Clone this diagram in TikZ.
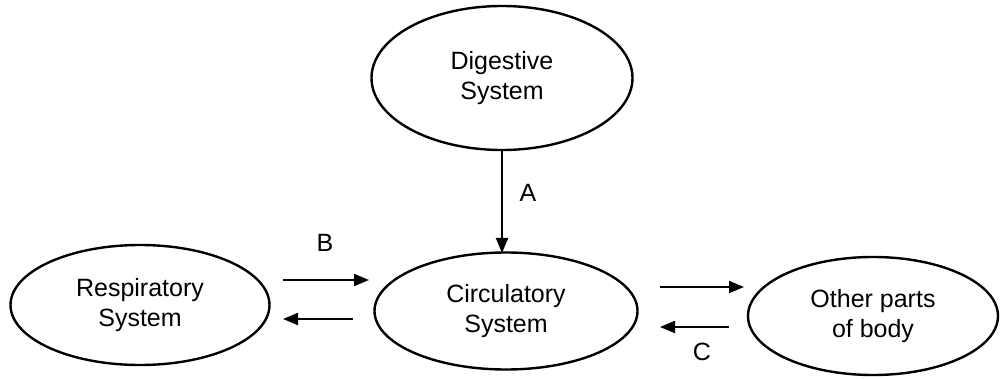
\documentclass[tikz,border=0pt]{standalone}
\usepackage{fontspec}
\setmainfont{Liberation Sans}
\usetikzlibrary{shapes.geometric,arrows.meta}
\begin{document}
\begin{tikzpicture}[x=1pt,y=-1pt,
  sys/.style={ellipse,draw,line width=2.4pt,inner sep=0pt,align=center,
    font=\fontsize{25}{30}\selectfont},
  flow/.style={line width=2pt,-{Triangle[length=15pt,width=12pt]}},
  lbl/.style={font=\fontsize{25}{30}\selectfont,inner sep=0pt}]
\useasboundingbox (0,0) rectangle (1001,379);
\node[sys,minimum width=261pt,minimum height=144pt] (dig) at (502,78) {Digestive\\System};
\node[sys,minimum width=259pt,minimum height=120pt] (resp) at (140,305) {Respiratory\\System};
\node[sys,minimum width=263pt,minimum height=117pt] (circ) at (506,311) {Circulatory\\System};
\node[sys,minimum width=250pt,minimum height=118pt] (oth) at (873,316) {Other parts\\of body};
% A
\coordinate (a1) at (502,150);
\coordinate (a2) at (502,253);
\draw[flow] (a1) -- (a2);
\node[lbl] (la) at (528,193) {A};
% B
\coordinate (b1) at (283,280);
\coordinate (b2) at (369,280);
\coordinate (b3) at (353,319);
\coordinate (b4) at (283,319);
\draw[flow] (b1) -- (b2);
\draw[flow] (b3) -- (b4);
\node[lbl] (lb) at (325,243) {B};
% C
\coordinate (c1) at (660,287);
\coordinate (c2) at (744,287);
\coordinate (c3) at (729,327);
\coordinate (c4) at (660,327);
\draw[flow] (c1) -- (c2);
\draw[flow] (c3) -- (c4);
\node[lbl] (lc) at (702,352) {C};
\end{tikzpicture}
\end{document}
